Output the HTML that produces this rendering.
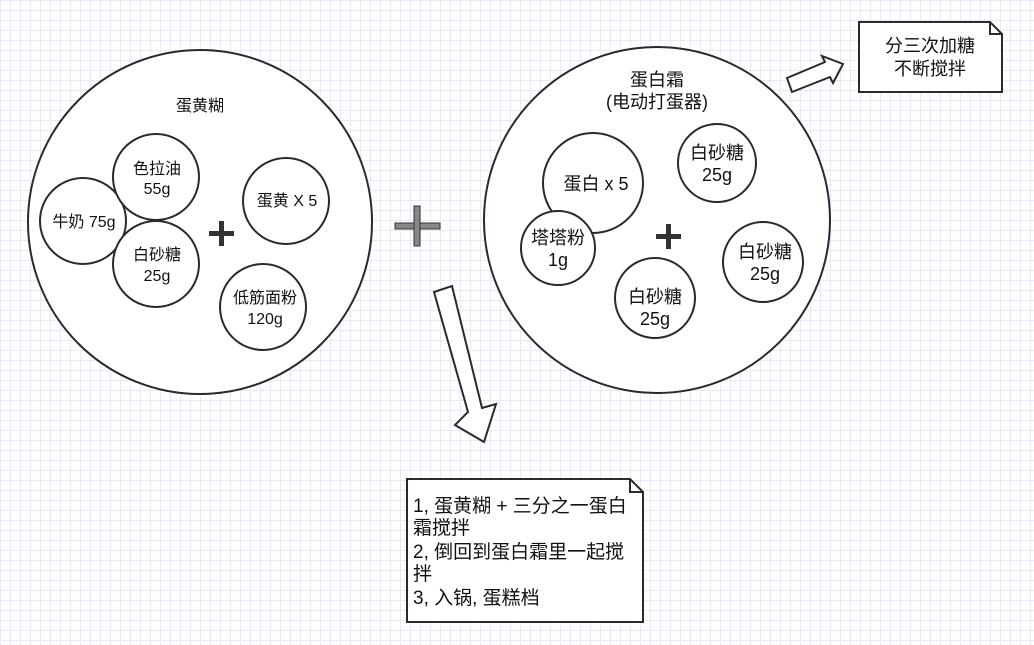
<!DOCTYPE html>
<html><head><meta charset="utf-8"><style>
body{margin:0;width:1034px;height:640px;overflow:hidden;background:#fff;
background-image:linear-gradient(#e8e8f6 1px,transparent 1px),linear-gradient(90deg,#e8e8f6 1px,transparent 1px);background-size:10px 10px;}
text{font-family:"Liberation Sans","Noto Sans CJK SC",sans-serif;fill:#111;}
</style></head><body>
<svg width="1034" height="640" xmlns="http://www.w3.org/2000/svg">
<g stroke="#2a2a2a" stroke-width="2" fill="#fff">
<circle cx="200" cy="222" r="172"/>
<circle cx="83" cy="221" r="43"/>
<circle cx="156" cy="177" r="43"/>
<circle cx="156" cy="264" r="43"/>
<circle cx="286" cy="201" r="43"/>
<circle cx="263" cy="307" r="43"/>
<circle cx="657" cy="220" r="173"/>
<circle cx="593" cy="183" r="50"/>
<circle cx="558" cy="248" r="37"/>
<circle cx="717" cy="163" r="39"/>
<circle cx="763" cy="262" r="40"/>
<circle cx="655" cy="298" r="40"/>
<polygon points="434,292 452,286 482,408 496,404 484,442 455,425 468,412"/>
<polygon points="787,78 825,62 822,56 843,64 833,83 830,77 792,92"/>
<polygon points="859,22 990,22 1002,34 1002,92 859,92"/>
<polyline points="990,22 990,34 1002,34" fill="none"/>
<polygon points="407,479 630,479 643,492 643,622 407,622"/>
<polyline points="630,479 630,492 643,492" fill="none"/>
</g>
<g fill="#333">
<rect x="209" y="231" width="25" height="5"/><rect x="219" y="221" width="5" height="25"/>
<rect x="656" y="234" width="25" height="5"/><rect x="666" y="224" width="5" height="25"/>
</g>
<g fill="#888" stroke="#333" stroke-width="1">
<rect x="395" y="223" width="45" height="6"/><rect x="414" y="206" width="6" height="40"/>
</g>
<g font-size="16" text-anchor="middle">
<text x="200" y="111">蛋黄糊</text>
<text x="84" y="227">牛奶 75g</text>
<text x="157" y="174">色拉油</text><text x="157" y="194">55g</text>
<text x="157" y="260">白砂糖</text><text x="157" y="281">25g</text>
<text x="287" y="206">蛋黄 X 5</text>
<text x="265" y="303">低筋面粉</text><text x="265" y="324">120g</text>
</g>
<g font-size="18" text-anchor="middle">
<text x="657" y="86">蛋白霜</text><text x="657" y="108">(电动打蛋器)</text>
<text x="596" y="190">蛋白 x 5</text>
<text x="558" y="244">塔塔粉</text><text x="558" y="266">1g</text>
<text x="717" y="159">白砂糖</text><text x="717" y="181">25g</text>
<text x="765" y="258">白砂糖</text><text x="765" y="280">25g</text>
<text x="655" y="303">白砂糖</text><text x="655" y="325">25g</text>
<text x="930" y="52">分三次加糖</text><text x="930" y="75">不断搅拌</text>
</g>
<g font-size="19">
<text x="413" y="512">1, 蛋黄糊 + 三分之一蛋白</text>
<text x="413" y="534">霜搅拌</text>
<text x="413" y="558">2, 倒回到蛋白霜里一起搅</text>
<text x="413" y="580">拌</text>
<text x="413" y="604">3, 入锅, 蛋糕档</text>
</g>
</svg>
</body></html>
